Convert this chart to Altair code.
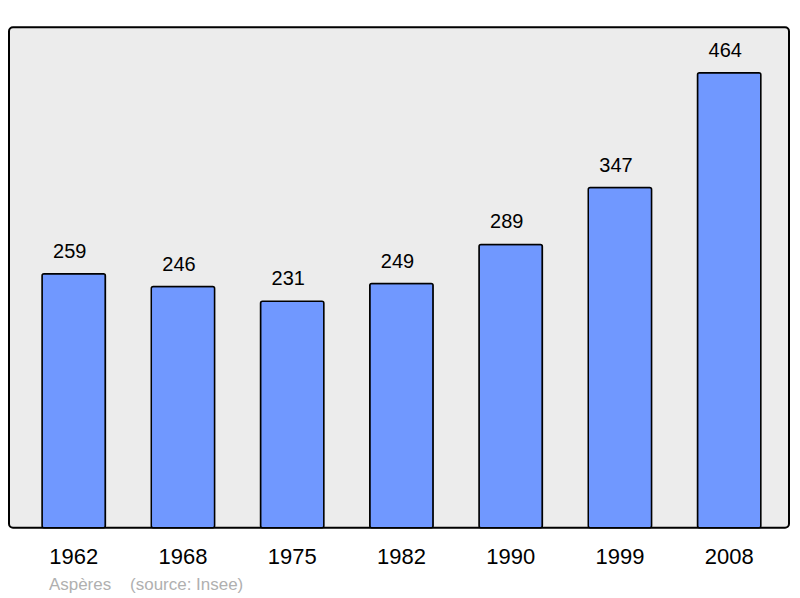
import altair as alt
import pandas as pd

years = ["1962", "1968", "1975", "1982", "1990", "1999", "2008"]
population = [259, 246, 231, 249, 289, 347, 464]
source_text = "Aspères\u00a0\u00a0\u00a0\u00a0(source: Insee)"

df = pd.DataFrame({"year": years, "pop": population})

x = alt.X("year:N", sort=years, title=None,
          scale=alt.Scale(paddingInner=0.42, paddingOuter=0.28, align=0.54),
          axis=alt.Axis(labelAngle=0, domain=False, ticks=False, labelFontSize=22,
                        labelFont="Liberation Sans", labelColor="#000000",
                        labelPadding=19))
y = alt.Y("pop:Q", title=None, scale=alt.Scale(domain=[0, 510.4], nice=False, zero=True),
          axis=None)

bars = alt.Chart(df).mark_bar(color="#7098ff", stroke="#000000", strokeWidth=1.5,
                              cornerRadius=2).encode(x=x, y=y)
labels = alt.Chart(df).mark_text(dy=-12, dx=-4, baseline="bottom", fontSize=20,
                                 font="Liberation Sans", color="#000000").encode(
    x=x, y=y, text="pop:Q")

chart = (bars + labels).properties(
    width=781, height=501,
    autosize=alt.AutoSizeParams(type="none"),
    padding={"left": 1, "top": 19, "right": 3, "bottom": 70},
    title=alt.TitleParams(source_text, orient="bottom", anchor="start",
                          dx=40, offset=9, fontSize=17, font="Liberation Sans",
                          fontWeight="normal", color="#b0b0b0"),
).configure_view(fill="#ececec", stroke="#000000", strokeWidth=2, cornerRadius=4)

chart.save("out.html", embed_options={"renderer": "svg", "actions": False})
